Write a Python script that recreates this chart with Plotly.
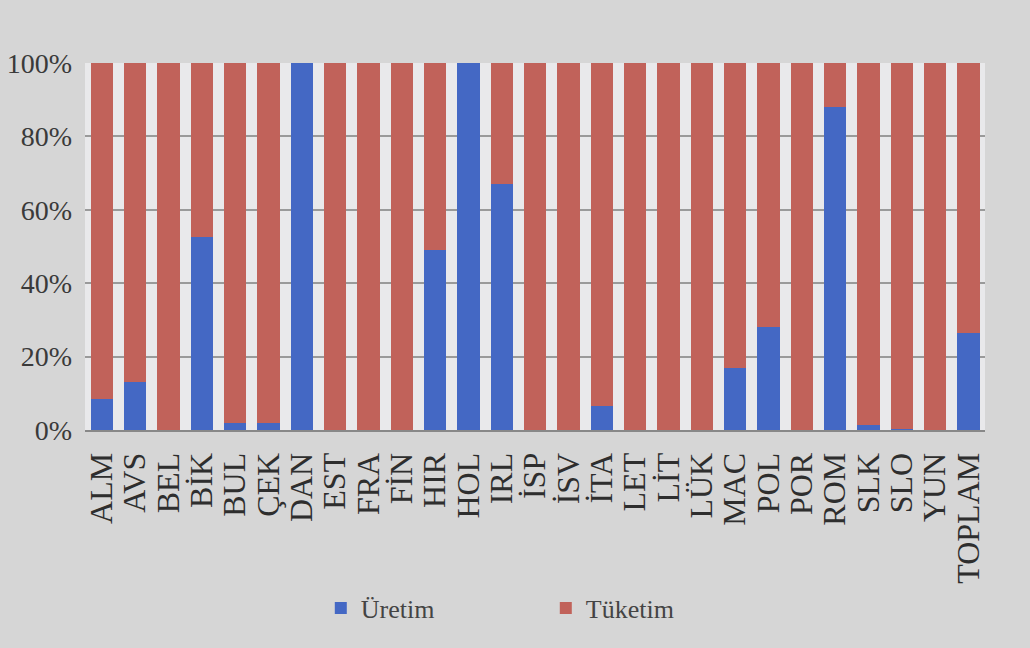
import plotly.graph_objects as go

categories = ["ALM", "AVS", "BEL", "BİK", "BUL", "ÇEK", "DAN", "EST", "FRA", "FİN",
              "HIR", "HOL", "IRL", "İSP", "İSV", "İTA", "LET", "LİT", "LÜK", "MAC",
              "POL", "POR", "ROM", "SLK", "SLO", "YUN", "TOPLAM"]
uretim = [8.5, 13, 0, 52.5, 2, 2, 100, 0, 0, 0,
          49, 100, 67, 0, 0, 6.5, 0, 0, 0, 17,
          28, 0, 88, 1.5, 0.3, 0, 26.5]
tuketim = [100 - v for v in uretim]
series_names = ["Üretim", "Tüketim"]
y_ticks = [0, 20, 40, 60, 80, 100]
y_labels = ["0%", "20%", "40%", "60%", "80%", "100%"]

BLUE = "#4468c4"
RED = "#c1625a"
serif = "Liberation Serif"

fig = go.Figure()
fig.add_trace(go.Bar(x=categories, y=uretim, name=series_names[0],
                     marker_color=BLUE, marker_line_width=0))
fig.add_trace(go.Bar(x=categories, y=tuketim, name=series_names[1],
                     marker_color=RED, marker_line_width=0))

fig.update_layout(
    template="none",
    barmode="stack",
    bargap=0.33,
    width=1030, height=648,
    margin=dict(l=85, r=45, t=63, b=218),
    paper_bgcolor="#d6d6d6",
    plot_bgcolor="#e9e9eb",
    showlegend=True,
    legend=dict(orientation="h", x=0.262, xanchor="left", y=-0.485, yanchor="middle",
                entrywidth=180, entrywidthmode="pixels", traceorder="normal",
                bgcolor="rgba(0,0,0,0)",
                font=dict(family=serif, size=26, color="#444")),
    font=dict(family=serif, color="#333"),
)
fig.update_xaxes(tickmode="array", tickvals=categories, ticktext=categories,
                 tickangle=-90, tickfont=dict(family=serif, size=32, color="#2e2e2e"),
                 ticklabelstandoff=8,
                 showline=True, linecolor="#888", linewidth=2, ticks="", showgrid=False)
fig.update_yaxes(range=[0, 100], tickvals=y_ticks, ticktext=y_labels,
                 tickfont=dict(family=serif, size=28, color="#3a3a3a"),
                 ticklabelstandoff=12,
                 showgrid=True, gridcolor="#9a9a9a", gridwidth=2, zeroline=False,
                 showline=False, ticks="")

fig.write_html("out.html")
